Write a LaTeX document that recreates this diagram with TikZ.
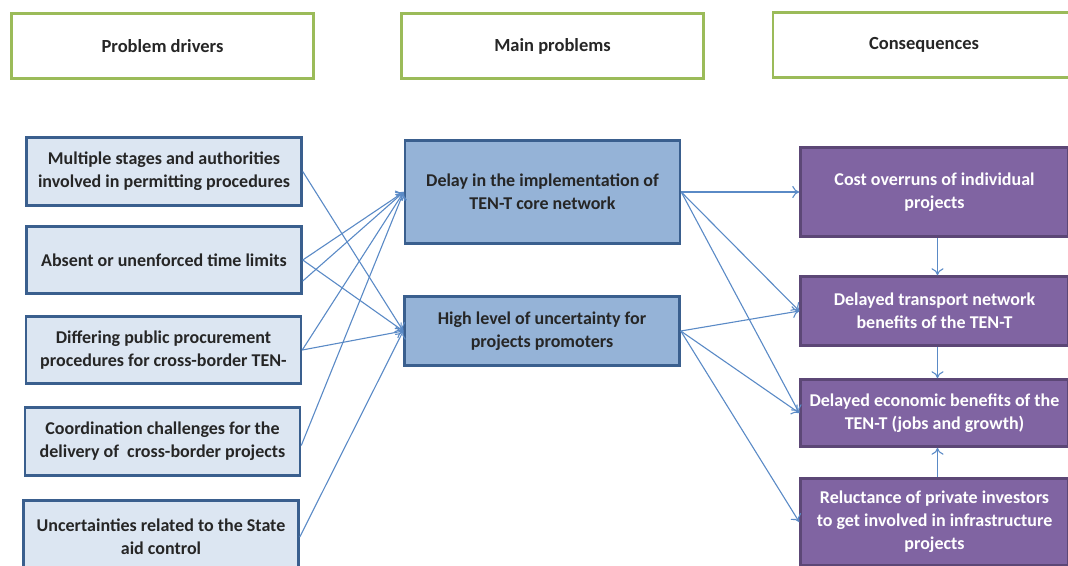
\documentclass[tikz,border=0pt]{standalone}
\usepackage{fontspec}
\setmainfont{Carlito}
\usepackage{tikz}
\usetikzlibrary{arrows.meta}
\definecolor{headline}{HTML}{9BBB59}
\definecolor{boxline}{HTML}{3A5F8E}
\definecolor{driverfill}{HTML}{DCE6F2}
\definecolor{problemfill}{HTML}{95B3D7}
\definecolor{effectfill}{HTML}{8064A2}
\definecolor{effectline}{HTML}{5C4776}
\definecolor{linkblue}{HTML}{5A8AC6}
\definecolor{darktext}{HTML}{262626}
\tikzset{every picture/.append style={x=1pt, y=-1pt}}
\tikzset{
    every node/.style={rectangle, draw, line width=2.5pt, inner sep=0pt,
    	align=center, font=\fontsize{18}{23}\selectfont\bfseries},
    headbox/.style={draw=headline, fill=white, text=darktext,
    	minimum width=302pt, minimum height=65pt,
    	font=\fontsize{18.5}{22}\selectfont\bfseries},
    driverbox/.style={draw=boxline, fill=driverfill, text=darktext,
    	minimum width=275pt},
    problembox/.style={draw=boxline, fill=problemfill, text=darktext,
    	minimum width=275pt},
    effectbox/.style={draw=effectline, fill=effectfill, text=white,
    	minimum width=268pt},
    link/.style={draw=linkblue, line width=1.1pt,
    	-{To[length=7pt, width=12pt]}}
}

\begin{document}
\begin{tikzpicture}
  \useasboundingbox (0,0) rectangle (1068,565);

  \node (h1) [headbox] at (162.5,46) {Problem drivers};
  \node (h2) [headbox] at (552.5,46) {Main problems};
  \node (h3) [headbox] at (924,45) {Consequences};

  \node (l1) [driverbox, minimum height=68pt] at (164,171.5)
    {Multiple stages and authorities\\involved in permitting procedures};
  \node (l2) [driverbox, minimum height=67pt] at (164,260)
    {Absent or unenforced time limits};
  \node (l3) [driverbox, minimum height=67pt] at (163.5,350)
    {Differing public procurement\\procedures for cross-border TEN-};
  \node (l4) [driverbox, minimum height=68pt] at (162.5,441.5)
    {Coordination challenges for the\\delivery of~ cross-border projects};
  \node (l5) [driverbox, minimum height=73pt] at (161,537)
    {Uncertainties related to the State\\aid control};

  \node (m1) [problembox, minimum height=103pt] at (542.5,192)
    {Delay in the implementation of\\TEN-T core network};
  \node (m2) [problembox, minimum height=69pt] at (542,331)
    {High level of uncertainty for\\projects promoters};

  \node (r1) [effectbox, minimum height=89pt] at (934.5,192)
    {Cost overruns of individual\\projects};
  \node (r2) [effectbox, minimum height=69pt] at (934.5,311)
    {Delayed transport network\\benefits of the TEN-T};
  \node (r3) [effectbox, minimum height=67pt] at (934.5,413)
    {Delayed economic benefits of the\\TEN-T (jobs and growth)};
  \node (r4) [effectbox, minimum height=87pt] at (934.5,522)
    {Reluctance of private investors\\to get involved in infrastructure\\projects};

  \draw [link] (l1.east) -- (m2.west);
  \draw [link] (l2.east) -- (m1.west);
  \draw [link] (l2.east) -- (m2.west);
  \draw [link] ([yshift=-21pt]l2.east) -- (m1.west);
  \draw [link] (l3.east) -- (m1.west);
  \draw [link] (l3.east) -- (m2.west);
  \draw [link] ([yshift=-4pt]l4.east) -- (m1.west);
  \draw [link] (l5.east) -- (m2.west);

  \draw [link] (m1.east) -- (r1.west);
  \draw [link] (m1.east) -- (r2.west);
  \draw [link] (m1.east) -- (r3.west);
  \draw [link] (m2.east) -- (r2.west);
  \draw [link] (m2.east) -- (r3.west);
  \draw [link] (m2.east) -- (r4.west);

  \draw [link] ([xshift=3pt]r1.south) -- ([xshift=3pt]r2.north);
  \draw [link] ([xshift=3pt]r2.south) -- ([xshift=3pt]r3.north);
  \draw [link] ([xshift=3pt]r4.north) -- ([xshift=3pt]r3.south);
\end{tikzpicture}
\end{document}
